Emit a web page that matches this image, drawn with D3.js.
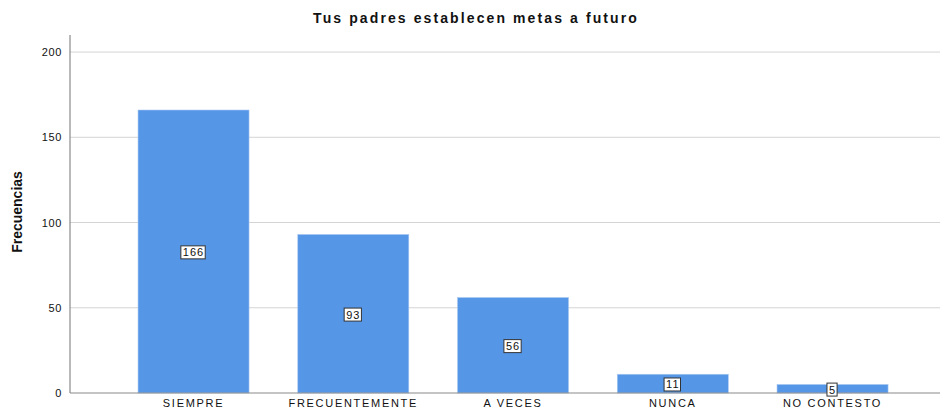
<!DOCTYPE html>
<html>
<head>
<meta charset="utf-8">
<script src="https://cdn.jsdelivr.net/npm/d3@7"></script>
<style>
  body { margin: 0; background: #fff; }
  svg { display: block; font-family: "Liberation Sans", Arial, sans-serif; }
</style>
</head>
<body>
<div id="chart"></div>
<script>
  var categories = ['SIEMPRE', 'FRECUENTEMENTE', 'A VECES', 'NUNCA', 'NO CONTESTO'];
  var frecuencias = [166, 93, 56, 11, 5];
  var yTicks = [0, 50, 100, 150, 200];

  var width = 945, height = 409;
  var plotLeft = 70, plotRight = 940, plotTop = 35, plotBottom = 393;

  var svg = d3.select('#chart').append('svg')
    .attr('width', width)
    .attr('height', height);

  var x = d3.scaleBand()
    .domain(categories)
    .range([plotLeft, plotRight])
    .paddingInner(0.305)
    .paddingOuter(0.3755)
    .align(0.567);

  var y = d3.scaleLinear()
    .domain([0, 210])
    .range([plotBottom, plotTop]);

  // gridlines
  svg.append('g')
    .selectAll('line')
    .data(yTicks.slice(1))
    .enter().append('line')
    .attr('x1', plotLeft).attr('x2', plotRight)
    .attr('y1', function(d) { return y(d); })
    .attr('y2', function(d) { return y(d); })
    .attr('stroke', '#d4d4d4')
    .attr('stroke-width', 1);

  // bars
  svg.append('g')
    .selectAll('rect')
    .data(frecuencias)
    .enter().append('rect')
    .attr('x', function(d, i) { return x(categories[i]); })
    .attr('y', function(d) { return y(d); })
    .attr('width', x.bandwidth())
    .attr('height', function(d) { return plotBottom - y(d); })
    .attr('fill', '#5596e6')
    .attr('stroke', '#a9c9f0')
    .attr('stroke-width', 0.6);

  // y axis
  var yAxis = d3.axisLeft(y).tickValues(yTicks).tickSize(0).tickPadding(8);
  var gy = svg.append('g')
    .attr('transform', 'translate(' + plotLeft + ',0)')
    .call(yAxis);
  gy.select('.domain').remove();
  gy.selectAll('text')
    .attr('font-size', 11)
    .attr('letter-spacing', 0.6)
    .attr('font-family', '"Liberation Sans", Arial, sans-serif')
    .attr('fill', '#111');

  svg.append('line')
    .attr('x1', plotLeft).attr('x2', plotLeft)
    .attr('y1', plotTop).attr('y2', plotBottom)
    .attr('stroke', '#8a8a8a').attr('stroke-width', 1.2);

  // x axis
  var xAxis = d3.axisBottom(x).tickSize(0).tickPadding(6);
  var gx = svg.append('g')
    .attr('transform', 'translate(0,' + plotBottom + ')')
    .call(xAxis);
  gx.select('.domain').remove();
  gx.selectAll('text')
    .attr('font-size', 11)
    .attr('letter-spacing', 1.7)
    .attr('font-family', '"Liberation Sans", Arial, sans-serif')
    .attr('fill', '#111');

  svg.append('line')
    .attr('x1', plotLeft).attr('x2', plotRight)
    .attr('y1', plotBottom).attr('y2', plotBottom)
    .attr('stroke', '#8a8a8a').attr('stroke-width', 1.2);

  // value labels
  var labels = svg.append('g')
    .selectAll('g')
    .data(frecuencias)
    .enter().append('g')
    .attr('transform', function(d, i) {
      return 'translate(' + (x(categories[i]) + x.bandwidth() / 2) + ',' + ((y(d) + plotBottom) / 2 + 1) + ')';
    });

  labels.append('text')
    .attr('text-anchor', 'middle')
    .attr('dy', '0.35em')
    .attr('font-size', 11)
    .attr('letter-spacing', 1)
    .attr('fill', '#111')
    .text(function(d) { return d; })
    .each(function() {
      var b = this.getBBox();
      d3.select(this.parentNode).insert('rect', 'text')
        .attr('x', b.x - 2)
        .attr('y', b.y - 0.5)
        .attr('width', b.width + 3)
        .attr('height', b.height + 1)
        .attr('fill', '#fff')
        .attr('stroke', '#333')
        .attr('stroke-width', 1);
    });

  // title
  svg.append('text')
    .attr('x', 476)
    .attr('y', 23)
    .attr('text-anchor', 'middle')
    .attr('font-size', 14)
    .attr('letter-spacing', 2.1)
    .attr('font-weight', 'bold')
    .attr('fill', '#111')
    .text('Tus padres establecen metas a futuro');

  // y axis title
  svg.append('text')
    .attr('transform', 'translate(22,' + 212 + ') rotate(-90)')
    .attr('text-anchor', 'middle')
    .attr('font-size', 14)
    .attr('font-weight', 'bold')
    .attr('font-family', '"Liberation Sans Narrow", "Liberation Sans", Arial, sans-serif')
    .attr('fill', '#111')
    .text('Frecuencias');
</script>
</body>
</html>
